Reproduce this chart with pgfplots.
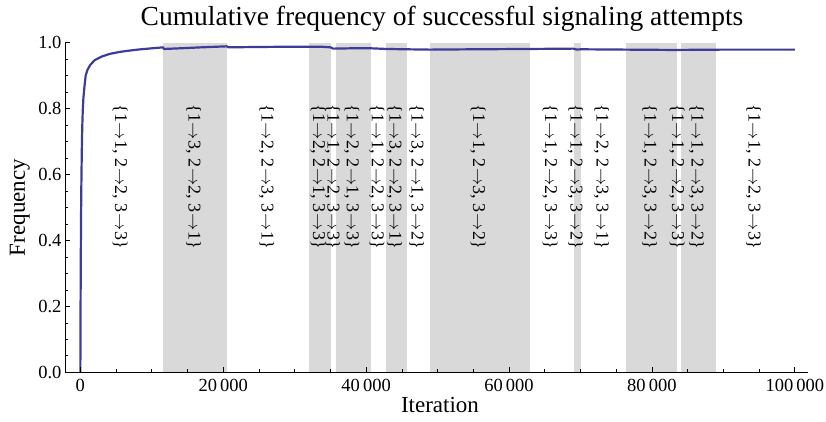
\documentclass[border=0pt]{standalone}
\usepackage{fontspec}
\setmainfont{Liberation Serif}
\usepackage{pgfplots}
\pgfplotsset{compat=1.18}
\definecolor{curve}{rgb}{0.24,0.24,0.6}
\definecolor{band}{gray}{0.85}
\newcommand{\labfont}{\fontsize{18}{20}\selectfont}
\newcommand{\ar}{\kern0.5pt$\rightarrow$\kern0.5pt}
\newcommand{\lab}[3]{\{1\ar#1, 2\ar#2, 3\ar#3\}}
\begin{document}
\begin{tikzpicture}
\begin{axis}[
  scale only axis, width=743pt, height=329.6pt,
  xmin=-2150, xmax=101850, ymin=0, ymax=1,
  axis lines*=left, axis on top,
  axis line style={line width=0.9pt},
  xtick={0,20000,40000,60000,80000,100000},
  xticklabels={0,20\thinspace000,40\thinspace000,60\thinspace000,80\thinspace000,100\thinspace000},
  ytick={0,0.2,0.4,0.6,0.8,1.0},
  yticklabels={0.0,0.2,0.4,0.6,0.8,1.0},
  minor x tick num=3, minor y tick num=3,
  major tick length=5pt, minor tick length=3pt,
  tick style={line width=0.7pt, black},
  tick align=inside,
  scaled x ticks=false, scaled y ticks=false,
  tick label style={font=\fontsize{18.5}{20}\selectfont, inner sep=0pt},
  xticklabel style={anchor=base, yshift=-18.7pt},
  yticklabel style={anchor=east, xshift=-3.3pt},
  clip=false,
]
% shaded regions
\addplot[fill=band, draw=none] coordinates {(11560,0) (11560,1) (20580,1) (20580,0)} -- cycle;
\addplot[fill=band, draw=none] coordinates {(32000,0) (32000,1) (35040,1) (35040,0)} -- cycle;
\addplot[fill=band, draw=none] coordinates {(35740,0) (35740,1) (40740,1) (40740,0)} -- cycle;
\addplot[fill=band, draw=none] coordinates {(42740,0) (42740,1) (45680,1) (45680,0)} -- cycle;
\addplot[fill=band, draw=none] coordinates {(48900,0) (48900,1) (62900,1) (62900,0)} -- cycle;
\addplot[fill=band, draw=none] coordinates {(69060,0) (69060,1) (70040,1) (70040,0)} -- cycle;
\addplot[fill=band, draw=none] coordinates {(76340,0) (76340,1) (83480,1) (83480,0)} -- cycle;
\addplot[fill=band, draw=none] coordinates {(84040,0) (84040,1) (88940,1) (88940,0)} -- cycle;
% cumulative frequency
\addplot[curve, line width=2.2pt, line join=round] coordinates {
(0,0) (30,0.2) (60,0.35) (100,0.48) (140,0.57) (200,0.67) (260,0.74) (330,0.79) (420,0.83)
(540,0.86) (740,0.9) (1000,0.918) (1400,0.933) (2000,0.947) (3000,0.958) (4100,0.966)
(5500,0.972) (6500,0.975) (8000,0.979) (9500,0.982) (11100,0.985) (11560,0.986)
(11700,0.981) (14000,0.983) (17000,0.986) (20500,0.989) (20700,0.986) (25000,0.987)
(30000,0.988) (33500,0.988) (35000,0.986) (35400,0.982) (38000,0.983) (40700,0.983)
(42800,0.981) (45600,0.980) (48900,0.979) (55000,0.980) (62900,0.981) (69000,0.982)
(69500,0.979) (70000,0.980) (76400,0.979) (83000,0.978) (90000,0.979) (100000,0.979)
};
% convention labels
\begin{scope}[every node/.style={rotate=-90, font=\labfont, inner sep=0pt}]
\node at (axis cs:5530,0.593) {\lab{1}{2}{3}};
\node at (axis cs:15820,0.593) {\lab{3}{2}{1}};
\node at (axis cs:26040,0.593) {\lab{2}{3}{1}};
\node at (axis cs:33270,0.593) {\lab{2}{1}{3}};
\node at (axis cs:35290,0.593) {\lab{1}{2}{3}};
\node at (axis cs:37990,0.593) {\lab{2}{1}{3}};
\node at (axis cs:41490,0.593) {\lab{1}{2}{3}};
\node at (axis cs:43960,0.593) {\lab{3}{2}{1}};
\node at (axis cs:47040,0.593) {\lab{3}{1}{2}};
\node at (axis cs:55650,0.593) {\lab{1}{3}{2}};
\node at (axis cs:65730,0.593) {\lab{1}{2}{3}};
\node at (axis cs:69300,0.593) {\lab{1}{3}{2}};
\node at (axis cs:72940,0.593) {\lab{2}{3}{1}};
\node at (axis cs:79660,0.593) {\lab{1}{3}{2}};
\node at (axis cs:83510,0.593) {\lab{1}{2}{3}};
\node at (axis cs:86240,0.593) {\lab{1}{3}{2}};
\node at (axis cs:94220,0.593) {\lab{1}{2}{3}};
\end{scope}
\end{axis}
\node[anchor=base, font=\fontsize{27.5}{30}\selectfont, inner sep=0pt] at (377pt,346.3pt) {Cumulative frequency of successful signaling attempts};
\node[anchor=base, font=\fontsize{23}{25}\selectfont, inner sep=0pt] at (375pt,-39.7pt) {Iteration};
\node[anchor=base, rotate=90, font=\fontsize{23}{25}\selectfont, inner sep=0pt] at (-40pt,164.8pt) {Frequency};
\pgfresetboundingbox
\path[use as bounding box] (-65pt,-48.7pt) rectangle (761pt,372.3pt);
\end{tikzpicture}
\end{document}
